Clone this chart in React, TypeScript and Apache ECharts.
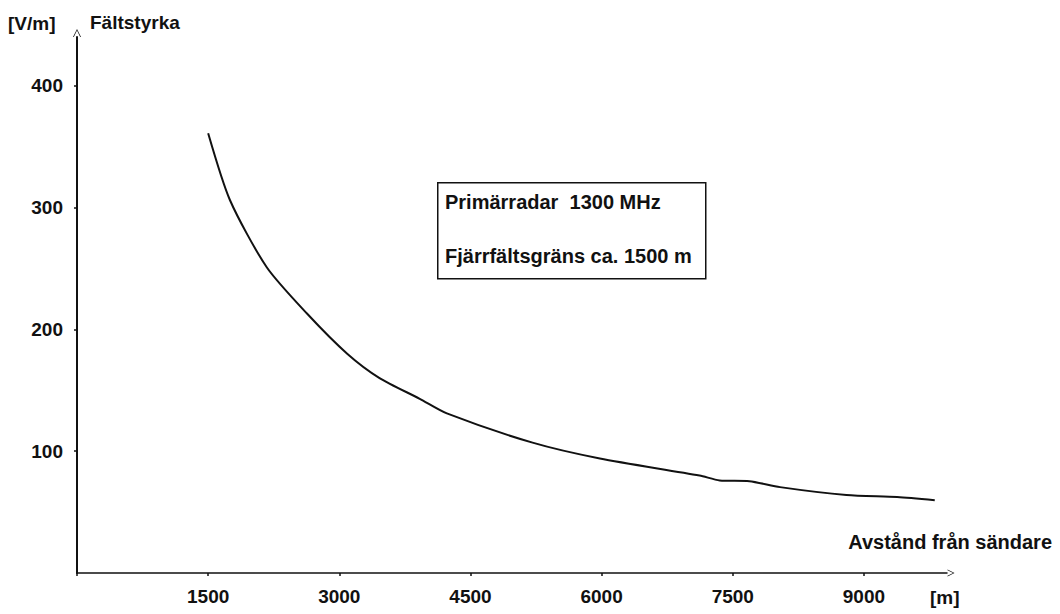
import React, { useEffect, useRef } from "react";
import * as echarts from "echarts";

const distances = [1500, 1750, 2170, 2630, 3090, 3460, 3920, 4230, 5210, 5980, 7120, 7350, 7690, 8040, 8800, 9380, 9810];
const fieldStrength = [361, 306, 251, 213, 180, 160, 143, 131, 107, 94, 80, 76, 75.4, 70.5, 64, 62.3, 59.8];
const xTicks = [1500, 3000, 4500, 6000, 7500, 9000];
const yTicks = [100, 200, 300, 400];
const infoLines = ["Primärradar  1300 MHz", "Fjärrfältsgräns ca. 1500 m"];

const FONT = "'Liberation Sans', Arial, sans-serif";
const chevron = "path://M0 10 L5 0 L10 10 L9 10 L5 2 L1 10 Z";

export default function App() {
  const ref = useRef<HTMLDivElement>(null);
  useEffect(() => {
    if (!ref.current) return;
    const chart = echarts.init(ref.current, null, { renderer: "svg" });
    const data = distances.map((d, i) => [d, fieldStrength[i]]);
    chart.setOption({
      animation: false,
      backgroundColor: "#ffffff",
      grid: { left: 77, right: 113, top: 37, bottom: 41, containLabel: false },
      xAxis: {
        type: "value",
        min: 0,
        max: 9950,
        splitLine: { show: false },
        axisLine: {
          show: true,
          lineStyle: { color: "#111", width: 1.5 },
          symbol: ["none", chevron],
          symbolSize: [9, 7],
          symbolOffset: [0, 4],
        },
        axisTick: { show: true, customValues: [0, ...xTicks], length: 3, lineStyle: { color: "#111", width: 1.5 } },
        axisLabel: {
          customValues: xTicks,
          formatter: (v: number) => String(v),
          color: "#111",
          fontFamily: FONT,
          fontWeight: "bold",
          fontSize: 19,
          margin: 14,
        },
      },
      yAxis: {
        type: "value",
        min: 0,
        max: 440,
        splitLine: { show: false },
        axisLine: {
          show: true,
          lineStyle: { color: "#111", width: 2 },
          symbol: ["none", chevron],
          symbolSize: [8, 9],
          symbolOffset: [0, 4],
        },
        axisTick: { show: true, customValues: yTicks, length: 3, lineStyle: { color: "#111", width: 1.5 } },
        axisLabel: {
          customValues: yTicks,
          formatter: (v: number) => String(v),
          color: "#111",
          fontFamily: FONT,
          fontWeight: "bold",
          fontSize: 19,
          margin: 14,
        },
      },
      series: [
        {
          type: "line",
          data,
          smooth: 0.25,
          showSymbol: false,
          lineStyle: { color: "#111", width: 2 },
        },
      ],
      graphic: [
        { type: "text", left: 8, top: 14, style: { text: "[V/m]", font: `bold 19px ${FONT}`, fill: "#111" } },
        { type: "text", left: 90, top: 13, style: { text: "Fältstyrka", font: `bold 19px ${FONT}`, fill: "#111" } },
        { type: "text", right: 8, top: 532, style: { text: "Avstånd från sändare", font: `bold 20px ${FONT}`, fill: "#111" } },
        { type: "text", left: 930, top: 588, style: { text: "[m]", font: `bold 19px ${FONT}`, fill: "#111" } },
        {
          type: "rect",
          left: 437,
          top: 182,
          shape: { width: 268, height: 96 },
          style: { fill: "#fff", stroke: "#111", lineWidth: 1.5 },
        },
        { type: "text", left: 445, top: 192, style: { text: infoLines[0], font: `bold 20px ${FONT}`, fill: "#111" } },
        { type: "text", left: 445, top: 246, style: { text: infoLines[1], font: `bold 20px ${FONT}`, fill: "#111" } },
      ],
    });
    return () => chart.dispose();
  }, []);
  return <div ref={ref} style={{ position: "fixed", left: 0, top: 0, width: 1060, height: 614 }} />;
}
